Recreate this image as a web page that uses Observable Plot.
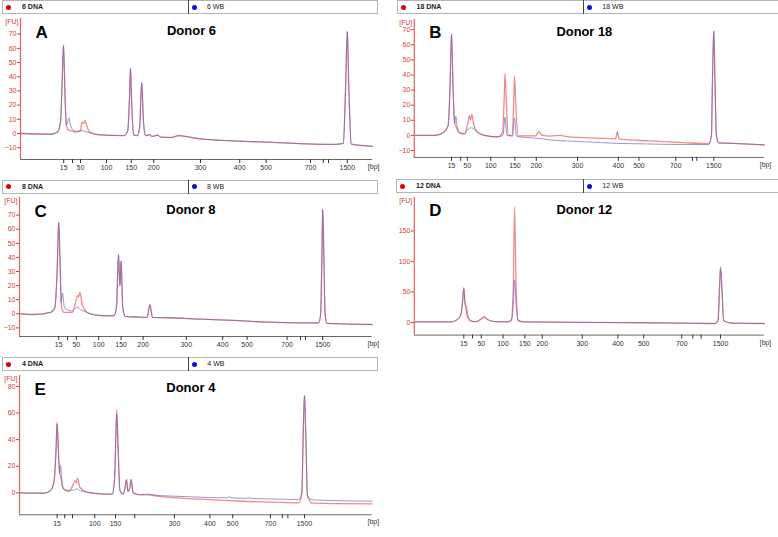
<!DOCTYPE html>
<html><head><meta charset="utf-8">
<script src="https://cdn.jsdelivr.net/npm/d3@7"></script>
<script src="https://cdn.jsdelivr.net/npm/@observablehq/plot@0.6"></script>
<style>
body{margin:0;background:#fff;font-family:"Liberation Sans",Arial,sans-serif;}
#root{position:relative;width:778px;height:537px;overflow:hidden;background:#fff;}
.hdr{position:absolute;height:14px;border:1px solid #b4b4b4;background:#fff;box-sizing:border-box;font-size:7px;color:#222;}
.dot{position:absolute;top:3.5px;width:5px;height:5px;border-radius:50%;}
.lab{position:absolute;top:0;line-height:12px;white-space:nowrap;}
.sep{position:absolute;top:-1px;width:1px;height:14px;background:#444;}
.pl{position:absolute;}
</style>
</head><body><div id="root"></div>
<script>
// ---- data (migration time in s, fluorescence in FU) ----
const ladderBp = [15, 25, 50, 100, 150, 200, 300, 400, 500, 700, 850, 1000, 1500];
const labeledBp = [15, 50, 100, 150, 200, 300, 400, 500, 700, 1500];
const labeledBpE = [15, 100, 150, 300, 400, 500, 700, 1500];

const ladderA = [30.8, 33.0, 35.0, 41.5, 47.7, 53.3, 65.0, 74.8, 81.4, 92.5, 95.7, 97.0, 101.7];
const ladderB = [29.4, 31.7, 33.4, 39.3, 45.4, 50.8, 61.2, 71.5, 76.7, 86.0, 90.2, 91.3, 95.6];
const ladderC = [29.8, 32.0, 34.2, 39.8, 45.4, 50.9, 61.7, 70.8, 76.9, 86.9, 90.25, 91.5, 95.8];
const ladderD = [32.5, 34.7, 36.9, 42.4, 47.9, 52.3, 62.4, 71.4, 77.9, 87.5, 90.3, 92.4, 97.3];
const ladderE = [29.4, 31.3, 33.25, 38.8, 44.0, 48.8, 58.75, 67.6, 73.3, 82.75, 85.7, 87.1, 91.25];

const yTicks80 = [-10, 0, 10, 20, 30, 40, 50, 60, 70];
const yTicksD = [0, 50, 100, 150];
const yTicksE = [0, 20, 40, 60, 80];

const dnaA = [[20,0],[27.5,-0.5],[29.2,1],[30.0,8],[30.4,35],[30.75,62],[31.1,30],[31.4,8],[31.8,3],[32.5,2],[33.75,1],[35.0,2],[35.4,8],[35.75,7],[36.1,9],[36.7,4],[37.5,0.5],[40.0,-1],[45.8,-1.5],[46.8,2],[47.25,25],[47.5,46],[47.75,25],[48.3,-1],[49.2,-1.5],[49.8,5],[50.3,35.7],[50.75,8],[51.25,-1.5],[52.25,-0.8],[52.9,-2],[54.3,-1.2],[55.0,-2.5],[57.5,-2.8],[59.6,-1.5],[61.25,-2],[65.0,-3.8],[81.7,-6.1],[98.3,-7.7],[100.7,-7],[101.25,30],[101.7,71.8],[102.1,30],[102.7,-7.5],[107.5,-8.9],[108,-9]];
const wbA = [[20,0],[27.5,-0.5],[29.2,1],[30.0,8],[30.4,35],[30.75,62],[31.1,30],[31.45,6],[31.8,8],[32.1,11],[32.5,6],[33.1,2.5],[34.0,1.5],[35.4,2],[36.1,1.5],[37.5,0.5],[40.0,-1],[45.8,-1.5],[46.8,2],[47.25,25],[47.5,46],[47.75,25],[48.3,-1],[49.2,-1.5],[49.8,5],[50.3,35.7],[50.75,8],[51.25,-1.5],[52.25,-0.8],[52.9,-2],[54.3,-1.2],[55.0,-2.5],[57.5,-2.8],[59.6,-1.5],[61.25,-2],[65.0,-3.8],[81.7,-6.1],[98.3,-7.7],[100.7,-7],[101.25,30],[101.7,71.8],[102.1,30],[102.7,-7.5],[107.5,-8.9],[108,-9]];

const dnaB = [[20,0],[25.2,0],[27.25,1.7],[28.5,6],[29.0,30],[29.4,67],[29.8,30],[30.2,8],[30.5,6],[31.2,2],[32.7,1],[33.5,8],[33.9,13],[34.2,10],[34.5,14],[35.0,7],[36.0,2],[37.7,0],[41.0,-1],[42.25,2],[42.7,25],[42.9,41],[43.2,25],[43.7,0],[44.7,0],[45.1,22],[45.3,39.4],[45.6,22],[46.2,-0.3],[47.7,-0.4],[50.6,-0.4],[51.4,2.4],[52.25,0],[54.3,-0.5],[56.8,0],[58.5,-0.8],[62.7,-1.5],[70.8,-2.3],[71.25,2.4],[71.7,-2.3],[79.3,-3.7],[87.7,-4.8],[94.3,-5.5],[95.0,0],[95.25,35],[95.6,69],[95.9,35],[96.25,0],[96.8,-5],[100.2,-5.3],[108.35,-6.3]];
const wbB = [[20,0],[25.2,0],[27.25,1.7],[28.5,6],[29.0,30],[29.4,67],[29.8,30],[30.2,8],[30.5,12.7],[30.8,6],[31.4,2],[32.7,1],[33.5,4],[34.2,5],[35.2,4],[36.0,2],[37.7,0],[41.0,-1],[42.4,0],[42.9,12],[43.4,0],[44.8,-0.5],[45.3,11.6],[45.8,-0.5],[47.7,-1.3],[51.4,-2],[54.3,-3],[62.7,-4.2],[71.0,-5.3],[79.3,-5.7],[87.7,-6.1],[94.3,-6.1],[95.0,0],[95.25,35],[95.6,69],[95.9,35],[96.25,0],[96.8,-5],[100.2,-5.3],[108.35,-6.3]];

const dnaC = [[20,0],[23.6,-0.5],[27.75,1],[28.8,4],[29.4,30],[29.8,65],[30.2,30],[30.5,5],[31.1,1],[33.2,1],[34.0,8],[34.6,13],[34.8,12],[35.1,15.4],[35.7,6],[36.9,1],[37.75,0],[40.25,-1.2],[43.6,-1.4],[44.25,5],[44.75,42],[45.1,20],[45.4,37.4],[45.8,5],[46.4,-1.8],[50.25,-2.4],[51.9,-2.6],[52.6,6.4],[53.25,-2.6],[56.9,-2.8],[65.25,-3.8],[73.6,-4.7],[81.9,-5.9],[94.8,-6.5],[95.3,0],[95.6,40],[95.8,74],[96.1,40],[96.4,0],[96.9,-6.8],[98.6,-7],[108.18,-7.6]];
const wbC = [[20,0],[23.6,-0.5],[27.75,1],[28.8,4],[29.4,30],[29.8,65],[30.2,30],[30.4,8],[30.75,14.7],[31.25,4],[33.2,2],[34.0,4],[34.4,4.7],[35.25,3],[36.9,1],[37.75,0],[40.25,-1.2],[43.6,-1.4],[44.25,5],[44.75,42],[45.1,20],[45.4,37.4],[45.8,5],[46.4,-1.8],[50.25,-2.4],[51.9,-2.6],[52.6,6.4],[53.25,-2.6],[56.9,-2.8],[65.25,-3.8],[73.6,-4.7],[81.9,-5.9],[94.8,-6.5],[95.3,0],[95.6,40],[95.8,74],[96.1,40],[96.4,0],[96.9,-6.8],[98.6,-7],[108.18,-7.6]];

const dnaD = [[20,1],[29.3,1],[30.6,3.8],[31.7,12],[32.2,35],[32.5,57],[32.8,35],[33.2,15],[33.7,6],[34.5,2],[35.6,1.5],[36.8,5],[37.7,8.5],[38.5,5],[40.2,1.6],[43.5,1],[44.5,5],[45.0,60],[45.3,189],[45.7,60],[46.2,4],[47.7,1],[71.0,0],[87.7,-1],[96.0,-1.6],[96.7,5],[97.0,50],[97.3,91],[97.7,50],[98.1,3],[100.2,-1],[108.35,-1.6]];
const wbD = [[20,1],[29.3,1],[30.6,3.8],[31.7,12],[32.2,33],[32.5,55],[32.8,30],[33.2,26],[33.6,10],[34.5,2],[35.6,1.5],[36.8,6],[37.7,9.7],[38.5,5],[40.2,1.6],[43.5,1],[44.5,3],[45.0,30],[45.3,69],[45.7,30],[46.2,3],[47.7,1],[71.0,0],[87.7,-1],[96.0,-1.6],[96.7,5],[97.0,48],[97.3,88],[97.7,48],[98.1,3],[100.2,-1],[108.35,-1.6]];

const dnaE = [[20,0],[26.1,-0.3],[27.75,1.8],[28.6,8],[29.1,30],[29.4,53],[29.75,30],[30.1,14],[30.4,11],[30.9,3],[32.3,1],[33.4,6],[33.9,9],[34.2,7.5],[34.5,11],[35.1,4],[36.9,0.5],[40.25,-0.8],[43.2,-1],[43.75,10],[44.1,45],[44.3,62.7],[44.7,30],[45.1,2],[45.9,-1],[46.4,4],[46.75,10],[47.1,1],[47.6,4],[47.9,10],[48.4,0],[50.25,-1.5],[52.3,-1.5],[54.4,-2.5],[56.9,-3.3],[65.25,-4.8],[73.6,-6],[81.9,-7],[89.8,-7.5],[90.6,0],[90.9,40],[91.25,73],[91.6,40],[92.0,-2],[93.2,-7.8],[108.18,-8.3]];
const wbE = [[20,0],[26.1,-0.3],[27.75,1.8],[28.6,8],[29.1,30],[29.4,52],[29.75,30],[30.0,15],[30.25,20.5],[30.7,6],[31.5,2],[33.6,2],[34.25,3],[35.25,1.5],[36.9,0.5],[40.25,-0.8],[43.2,-1],[43.75,10],[44.1,42],[44.3,59],[44.7,28],[45.1,2],[45.9,-1],[46.4,4],[46.75,10],[47.1,1],[47.6,4],[47.9,10],[48.4,0],[50.25,-1.3],[52.3,-1.0],[54.4,-2],[56.9,-2.3],[65.25,-3.3],[71.8,-3.7],[72.3,-2.8],[72.8,-3.7],[76.8,-4.2],[77.3,-3.5],[77.8,-4.2],[81.9,-4.5],[89.8,-5],[90.6,0],[90.9,40],[91.25,73],[91.6,40],[92.0,-2],[93.2,-5.3],[108.18,-6.3]];

// ---- layout (page pixels) ----
const panels = [
  {letter:"A", title:"Donor 6",  dnaLabel:"6 DNA",  wbLabel:"6 WB",  dna:dnaA, wb:wbA, ladder:ladderA, labeled:labeledBp, yTicks:yTicks80,
   frame:{left:20, top:18, right:372, bottom:159}, yDomain:[-18.3, 81.0], header:{left:2, top:0, right:378, split:187}},
  {letter:"B", title:"Donor 18", dnaLabel:"18 DNA", wbLabel:"18 WB", dna:dnaB, wb:wbB, ladder:ladderB, labeled:labeledBp, yTicks:yTicks80,
   frame:{left:414.3, top:19, right:767.7, bottom:158.3}, yDomain:[-14.6, 76.8], header:{left:396.5, top:0, right:780, split:582.3}},
  {letter:"C", title:"Donor 8",  dnaLabel:"8 DNA",  wbLabel:"8 WB",  dna:dnaC, wb:wbC, ladder:ladderC, labeled:labeledBp, yTicks:yTicks80,
   frame:{left:19, top:197, right:371.7, bottom:336}, yDomain:[-16.1, 82.5], header:{left:2, top:179.5, right:378, split:187}},
  {letter:"D", title:"Donor 12", dnaLabel:"12 DNA", wbLabel:"12 WB", dna:dnaD, wb:wbD, ladder:ladderD, labeled:labeledBp, yTicks:yTicksD,
   frame:{left:414.3, top:197, right:767.7, bottom:336}, yDomain:[-20.6, 205], header:{left:396, top:179.3, right:780, split:582.3}},
  {letter:"E", title:"Donor 4",  dnaLabel:"4 DNA",  wbLabel:"4 WB",  dna:dnaE, wb:wbE, ladder:ladderE, labeled:labeledBpE, yTicks:yTicksE,
   frame:{left:19, top:375, right:371.7, bottom:514.3}, yDomain:[-16.5, 88.2], header:{left:2, top:357, right:378, split:187.3}}
];

const RED_TRACE = "#ea7f7f", BLUE_TRACE = "#6a64b8", AXIS_RED = "#e06060", LABEL_RED = "#d43c3c";
const root = document.getElementById("root");

for (const p of panels) {
  const f = p.frame, fw = f.right - f.left, fh = f.bottom - f.top;
  const mL = 24, mR = 14, mT = 8, mB = 24;
  const xDomain = [20, 20 + fw / 4];
  const labelOf = new Map(p.ladder.map((t, i) => [t, p.labeled.includes(ladderBp[i]) ? String(ladderBp[i]) : ""]));
  const chart = Plot.plot({
    width: fw + mL + mR, height: fh + mT + mB,
    marginLeft: mL, marginRight: mR, marginTop: mT, marginBottom: mB,
    x: {domain: xDomain, axis: null},
    y: {domain: p.yDomain, axis: null},
    style: {background: "transparent", overflow: "visible", fontFamily: "Liberation Sans, Arial, sans-serif"},
    marks: [
      Plot.line(p.dna, {x: d => d[0], y: d => d[1], stroke: RED_TRACE, strokeWidth: 1.3, strokeOpacity: 0.9, curve: "monotone-x"}),
      Plot.line(p.wb, {x: d => d[0], y: d => d[1], stroke: BLUE_TRACE, strokeWidth: 0.9, strokeOpacity: 0.75, curve: "monotone-x"}),
      Plot.ruleX([xDomain[0]], {stroke: AXIS_RED, strokeWidth: 1.2}),
      Plot.ruleY([p.yDomain[0]], {stroke: "#666", strokeWidth: 1}),
      Plot.axisY({ticks: p.yTicks, tickSize: 3, tickPadding: 1, fontSize: 7, stroke: LABEL_RED, fill: LABEL_RED, label: null}),
      Plot.axisX({ticks: p.ladder, tickSize: 4, tickPadding: 2, fontSize: 7, stroke: "#333", fill: "#333", label: null,
                  tickFormat: t => labelOf.get(t)}),
      Plot.text(["[FU]"], {text: d => d, frameAnchor: "top-left", dx: -2, dy: 1, textAnchor: "end", fill: LABEL_RED, fontSize: 7}),
      Plot.text(["[bp]"], {text: d => d, frameAnchor: "bottom-right", dx: 7, dy: 9.5, textAnchor: "end", fill: "#333", fontSize: 7}),
      Plot.text([p.letter], {text: d => d, frameAnchor: "top-left", dx: 15, dy: 7, lineAnchor: "top", textAnchor: "start", fontSize: 17, fontWeight: "bold", fill: "#000"}),
      Plot.text([p.title], {text: d => d, frameAnchor: "top", dx: -5, dy: 7, lineAnchor: "top", fontSize: 13, fontWeight: "bold", fill: "#000"})
    ]
  });
  const wrap = document.createElement("div");
  wrap.className = "pl";
  wrap.style.left = (f.left - mL) + "px";
  wrap.style.top = (f.top - mT) + "px";
  wrap.appendChild(chart);
  root.appendChild(wrap);

  const h = p.header;
  const hd = document.createElement("div");
  hd.className = "hdr";
  hd.style.left = h.left + "px"; hd.style.top = h.top + "px"; hd.style.width = (h.right - h.left) + "px";
  const s = h.split - h.left;
  hd.innerHTML =
    `<div class="dot" style="left:3px;background:#e00000"></div>` +
    `<div class="lab" style="left:19px;font-weight:bold">${p.dnaLabel}</div>` +
    `<div class="sep" style="left:${s}px"></div>` +
    `<div class="dot" style="left:${s + 4}px;background:#1010d0"></div>` +
    `<div class="lab" style="left:${s + 19}px">${p.wbLabel}</div>`;
  root.appendChild(hd);
}
</script>
</body></html>
